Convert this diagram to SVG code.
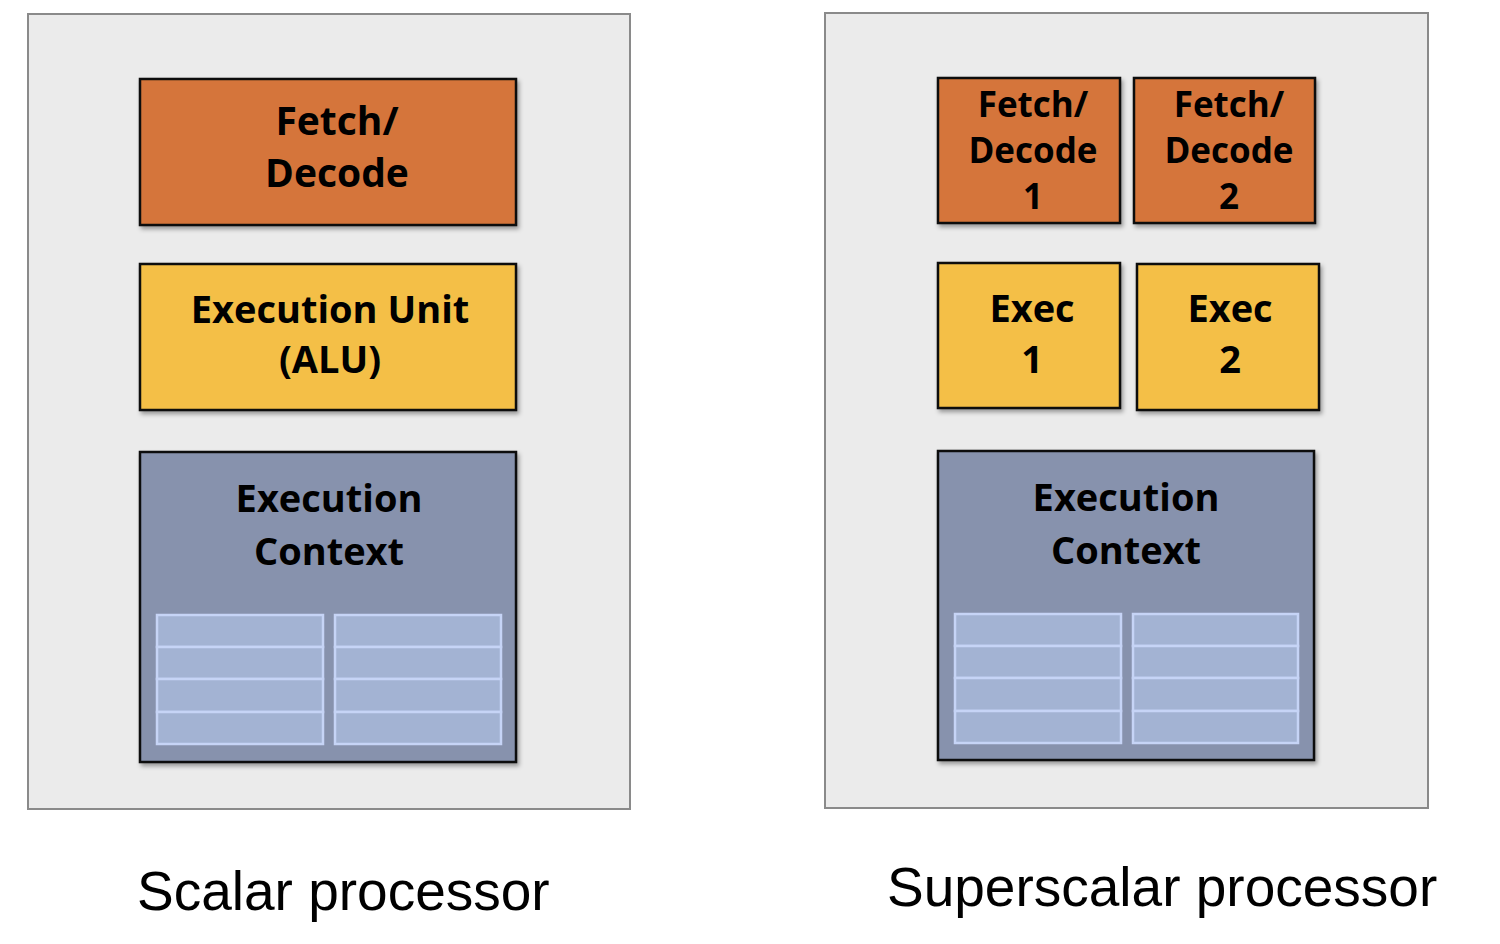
<svg xmlns="http://www.w3.org/2000/svg" width="1500" height="944" viewBox="0 0 1500 944">
<defs>
<filter id="sh" x="-10%" y="-10%" width="130%" height="130%">
<feDropShadow dx="2" dy="3" stdDeviation="2" flood-color="#000" flood-opacity="0.35"/>
</filter>
</defs>
<style>
.core{fill:#ebebeb;stroke:#8a8a8a;stroke-width:2}
.fd{fill:#d5743a;stroke:#111;stroke-width:2.5;filter:url(#sh)}
.ex{fill:#f4bf47;stroke:#111;stroke-width:2.5;filter:url(#sh)}
.ctx{fill:#8792ad;stroke:#111;stroke-width:2.5;filter:url(#sh)}
.reg{fill:#a3b3d3;stroke:#c6d4f6;stroke-width:2.5}
.t{font-family:"Open Sans","DejaVu Sans",sans-serif;font-weight:700;fill:#000;text-anchor:middle}
.cap{font-family:"Liberation Sans",Arial,sans-serif;font-size:55px;fill:#000}
</style>
<rect width="1500" height="944" fill="#fff"/>
<rect class="core" x="28" y="14" width="602" height="795"/>
<rect class="core" x="825" y="13" width="603" height="795"/>

<g id="scalar-fetch-decode">
<rect class="fd" x="140" y="79" width="376" height="146"/>
<text class="t" x="337" y="135" font-size="39">Fetch/</text>
<text class="t" x="337" y="187" font-size="39">Decode</text>
</g>
<g id="scalar-exec-unit">
<rect class="ex" x="140" y="264" width="376" height="146"/>
<text class="t" x="330" y="323" font-size="38">Execution Unit</text>
<text class="t" x="330" y="373" font-size="38">(ALU)</text>
</g>
<g id="scalar-exec-context">
<rect class="ctx" x="140" y="452" width="376" height="310"/>
<text class="t" x="329" y="512" font-size="38">Execution</text>
<text class="t" x="329" y="565" font-size="38">Context</text>
<rect class="reg" x="157" y="615" width="166" height="32"/>
<rect class="reg" x="157" y="647" width="166" height="32"/>
<rect class="reg" x="157" y="679" width="166" height="33"/>
<rect class="reg" x="157" y="712" width="166" height="32"/>
<rect class="reg" x="335" y="615" width="166" height="32"/>
<rect class="reg" x="335" y="647" width="166" height="32"/>
<rect class="reg" x="335" y="679" width="166" height="33"/>
<rect class="reg" x="335" y="712" width="166" height="32"/>
</g>

<g id="ss-fetch-decode-1">
<rect class="fd" x="938" y="78" width="182" height="145"/>
<text class="t" x="1033" y="117" font-size="35">Fetch/</text>
<text class="t" x="1033" y="163" font-size="35">Decode</text>
<text class="t" x="1033" y="209" font-size="35">1</text>
</g>
<g id="ss-fetch-decode-2">
<rect class="fd" x="1134" y="78" width="181" height="145"/>
<text class="t" x="1229" y="117" font-size="35">Fetch/</text>
<text class="t" x="1229" y="163" font-size="35">Decode</text>
<text class="t" x="1229" y="209" font-size="35">2</text>
</g>
<g id="ss-exec-1">
<rect class="ex" x="938" y="263" width="182" height="145"/>
<text class="t" x="1032" y="322" font-size="38">Exec</text>
<text class="t" x="1032" y="373" font-size="38">1</text>
</g>
<g id="ss-exec-2">
<rect class="ex" x="1137" y="264" width="182" height="146"/>
<text class="t" x="1230" y="322" font-size="38">Exec</text>
<text class="t" x="1230" y="373" font-size="38">2</text>
</g>
<g id="ss-exec-context">
<rect class="ctx" x="938" y="451" width="376" height="309"/>
<text class="t" x="1126" y="511" font-size="38">Execution</text>
<text class="t" x="1126" y="564" font-size="38">Context</text>
<rect class="reg" x="955" y="614" width="166" height="32"/>
<rect class="reg" x="955" y="646" width="166" height="32"/>
<rect class="reg" x="955" y="678" width="166" height="33"/>
<rect class="reg" x="955" y="711" width="166" height="32"/>
<rect class="reg" x="1133" y="614" width="165" height="32"/>
<rect class="reg" x="1133" y="646" width="165" height="32"/>
<rect class="reg" x="1133" y="678" width="165" height="33"/>
<rect class="reg" x="1133" y="711" width="165" height="32"/>
</g>

<g id="connectors"></g>

<text class="cap" x="137" y="910">Scalar processor</text>
<text class="cap" x="887" y="906">Superscalar processor</text>
</svg>
